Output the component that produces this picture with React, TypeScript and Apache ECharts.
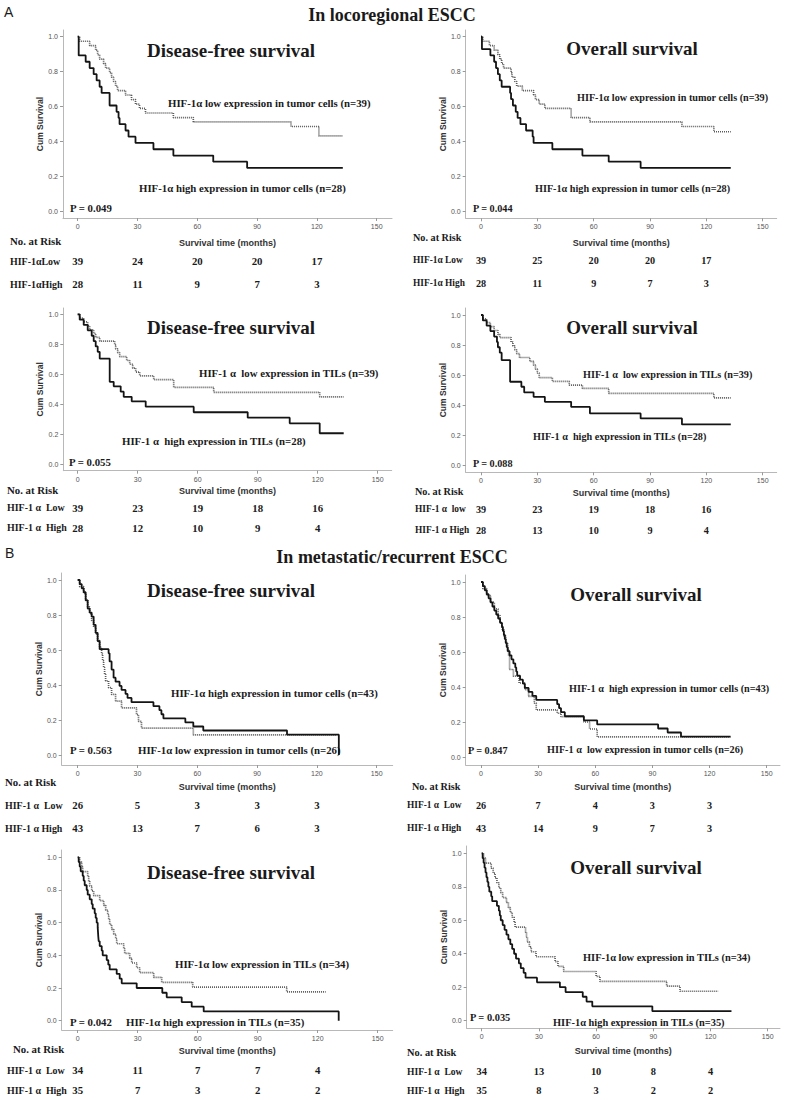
import React, { useEffect, useRef } from "react";
import * as echarts from "echarts";

type Pt = [number, number];

const xTickValues = [0, 30, 60, 90, 120, 150];
const yTickValues = [0, 0.2, 0.4, 0.6, 0.8, 1.0];
const riskTimes = [0, 30, 60, 90, 120];

// ---- Panel 1: locoregional, tumor cells, DFS
const p1Low: Pt[] = [[0,1],[1,0.974],[6,0.949],[9,0.923],[10,0.897],[11,0.872],[13,0.846],[14,0.821],[16,0.795],[17,0.769],[18,0.744],[19,0.718],[20,0.692],[24,0.667],[27,0.641],[29,0.615],[31,0.59],[34,0.564],[48,0.538],[58,0.513],[107,0.487],[121,0.433],[133,0.433]];
const p1High: Pt[] = [[0,1],[0.5,0.893],[4,0.857],[6,0.821],[8,0.786],[9.5,0.75],[11,0.714],[12,0.679],[16,0.607],[19.5,0.571],[20.5,0.536],[21,0.5],[24,0.464],[25.5,0.429],[29,0.393],[38,0.357],[48,0.321],[68,0.286],[85,0.25],[133,0.25]];
const p1RiskLow = [39, 24, 20, 20, 17];
const p1RiskHigh = [28, 11, 9, 7, 3];

// ---- Panel 2: locoregional, tumor cells, OS
const p2Low: Pt[] = [[0,1],[1,0.974],[4.5,0.949],[7,0.923],[9,0.897],[10,0.872],[11,0.846],[12,0.821],[16,0.795],[16.5,0.769],[18,0.744],[19,0.718],[22,0.692],[28,0.667],[29,0.641],[31,0.615],[34,0.59],[48,0.538],[58,0.513],[107,0.487],[124,0.457],[133,0.457]];
const p2High: Pt[] = [[0,1],[0.5,0.929],[5,0.893],[7,0.857],[8,0.821],[9,0.786],[10,0.75],[11,0.714],[15.5,0.679],[16,0.643],[17,0.607],[18.5,0.571],[19.5,0.536],[21,0.5],[24,0.464],[27.5,0.429],[28,0.393],[38,0.357],[54,0.321],[68,0.286],[85,0.25],[133,0.25]];
const p2RiskLow = [39, 25, 20, 20, 17];
const p2RiskHigh = [28, 11, 9, 7, 3];

// ---- Panel 3: locoregional, TILs, DFS
const p3Low: Pt[] = [[0,1],[1,0.974],[3,0.949],[5,0.923],[6,0.897],[8,0.872],[9,0.846],[11,0.821],[18.5,0.795],[19,0.769],[20,0.744],[21,0.718],[24.5,0.692],[26,0.667],[27.5,0.641],[29,0.615],[31,0.59],[38,0.564],[48,0.513],[68,0.48],[121,0.45],[133,0.45]];
const p3High: Pt[] = [[0,1],[1,0.964],[3,0.929],[5,0.893],[7,0.857],[8,0.821],[9,0.786],[10,0.75],[11,0.705],[16,0.55],[18,0.52],[21.5,0.484],[23,0.45],[27,0.42],[34,0.384],[58,0.347],[85,0.311],[106,0.273],[121,0.207],[133,0.207]];
const p3RiskLow = [39, 23, 19, 18, 16];
const p3RiskHigh = [28, 12, 10, 9, 4];

// ---- Panel 4: locoregional, TILs, OS
const p4Low: Pt[] = [[0,1],[1,0.974],[3,0.949],[5,0.923],[7,0.897],[9,0.872],[10,0.85],[16,0.821],[17,0.795],[18,0.769],[19,0.744],[20.5,0.718],[26,0.692],[28,0.667],[29,0.641],[30,0.615],[31,0.585],[38,0.56],[47,0.535],[54,0.513],[68,0.48],[124,0.45],[133,0.45]];
const p4High: Pt[] = [[0,1],[1,0.964],[3,0.929],[5,0.893],[7,0.857],[8.5,0.821],[9,0.786],[10,0.75],[11,0.7],[15.5,0.557],[21.5,0.524],[23,0.486],[28,0.457],[34,0.424],[48,0.39],[58,0.347],[85,0.314],[107,0.274],[133,0.274]];
const p4RiskLow = [39, 23, 19, 18, 16];
const p4RiskHigh = [28, 13, 10, 9, 4];

// ---- Panel 5: metastatic, tumor cells, DFS
const p5Low: Pt[] = [[0,1],[1,0.962],[3,0.923],[4,0.885],[5,0.846],[6,0.808],[7,0.769],[8,0.731],[9,0.692],[10,0.654],[11,0.615],[12,0.577],[12.5,0.538],[13,0.5],[13.5,0.462],[14,0.423],[15.5,0.385],[17,0.346],[19,0.308],[22,0.269],[29.5,0.231],[30.5,0.192],[32,0.154],[58,0.115],[130,0.115]];
const p5High: Pt[] = [[0,1],[1,0.977],[2,0.953],[3,0.93],[4,0.884],[5,0.837],[6,0.814],[7,0.791],[8,0.744],[9,0.698],[10,0.651],[11,0.605],[15.5,0.581],[16,0.535],[17,0.488],[18,0.442],[19,0.419],[21,0.395],[22,0.372],[24,0.349],[25,0.326],[27,0.302],[38,0.279],[41,0.256],[42,0.233],[43,0.209],[54,0.186],[58,0.163],[63,0.14],[105,0.116],[131,0]];
const p5RiskLow = [26, 5, 3, 3, 3];
const p5RiskHigh = [43, 13, 7, 6, 3];

// ---- Panel 6: metastatic, tumor cells, OS
const p6Low: Pt[] = [[0,1],[1,0.962],[3,0.923],[5,0.885],[7,0.846],[9,0.808],[10,0.769],[11,0.731],[12,0.692],[13,0.654],[14,0.615],[14.5,0.577],[15,0.5],[17,0.462],[20,0.423],[23,0.385],[25,0.346],[28,0.308],[29,0.269],[40,0.25],[42,0.231],[54,0.2],[57,0.16],[61,0.115],[131,0.115]];
const p6High: Pt[] = [[0,1],[1,0.977],[2,0.953],[3,0.93],[4,0.907],[5,0.884],[6,0.86],[7,0.837],[8,0.814],[9,0.791],[10,0.767],[11,0.744],[11.5,0.72],[12,0.698],[12.5,0.674],[13,0.651],[13.5,0.628],[14,0.605],[15,0.581],[16,0.558],[17,0.535],[18,0.512],[18.5,0.488],[19,0.465],[20.5,0.442],[22,0.419],[23,0.395],[25,0.372],[27,0.349],[29,0.326],[40,0.302],[41,0.279],[42,0.256],[44,0.233],[54,0.209],[61,0.186],[93,0.163],[98,0.14],[105,0.116],[131,0.116]];
const p6RiskLow = [26, 7, 4, 3, 3];
const p6RiskHigh = [43, 14, 9, 7, 3];

// ---- Panel 7: metastatic, TILs, DFS
const p7Low: Pt[] = [[0,1],[1,0.971],[2,0.941],[2.5,0.912],[5,0.882],[5.5,0.853],[6,0.824],[7,0.794],[8,0.765],[11,0.735],[13,0.706],[14,0.676],[15,0.647],[15.5,0.618],[16,0.588],[17,0.559],[18,0.529],[19,0.5],[19.5,0.471],[23,0.441],[23.5,0.412],[26,0.382],[27,0.353],[29.5,0.324],[31,0.294],[38,0.265],[42,0.235],[57.5,0.206],[104.5,0.176],[124,0.176]];
const p7High: Pt[] = [[0,1],[0.5,0.971],[1,0.943],[1.5,0.914],[2.5,0.886],[3,0.857],[3.5,0.829],[4.5,0.8],[5,0.771],[6,0.743],[7,0.714],[7.5,0.686],[8.5,0.657],[9,0.629],[9.5,0.6],[10,0.571],[10.3,0.514],[10.5,0.486],[11,0.457],[12,0.429],[12.5,0.4],[14.5,0.371],[15.3,0.343],[16,0.314],[19.5,0.286],[21,0.257],[22,0.229],[29.5,0.2],[42.3,0.171],[44.5,0.143],[52,0.114],[57,0.086],[63,0.057],[130.5,0]];
const p7RiskLow = [34, 11, 7, 7, 4];
const p7RiskHigh = [35, 7, 3, 2, 2];

// ---- Panel 8: metastatic, TILs, OS
const p8Low: Pt[] = [[0,1],[1,0.971],[2,0.941],[5,0.912],[6,0.882],[7,0.853],[8,0.824],[9,0.794],[10,0.765],[11,0.735],[13,0.706],[14,0.676],[15,0.647],[16,0.618],[17,0.588],[17.5,0.559],[23,0.529],[23.5,0.5],[24,0.471],[25,0.441],[26,0.412],[28.5,0.382],[38.5,0.353],[40,0.324],[43,0.294],[60,0.265],[62,0.235],[97,0.206],[104,0.176],[124,0.176]];
const p8High: Pt[] = [[0,1],[0.5,0.971],[1,0.943],[1.5,0.914],[2,0.886],[2.5,0.857],[3,0.829],[3.5,0.8],[4,0.771],[5,0.743],[5.5,0.714],[8,0.686],[9,0.657],[9.5,0.629],[10,0.6],[11,0.571],[12,0.543],[13,0.514],[14,0.486],[15,0.457],[16,0.429],[17,0.4],[18,0.371],[19.5,0.343],[20.5,0.314],[22,0.286],[23,0.257],[29,0.229],[41,0.2],[44,0.171],[53,0.143],[55,0.114],[58,0.086],[89.5,0.057],[131,0.057]];
const p8RiskLow = [34, 13, 10, 8, 4];
const p8RiskHigh = [35, 8, 3, 2, 2];

const SERIF = "'Liberation Serif', 'Times New Roman', serif";
const SANS = "'Liberation Sans', Arial, sans-serif";

// layout (pixel geometry of each panel)
const layouts = [
  { xL: 63, xR: 392, x0: 77.7, x150: 376.7, yT: 30, y1: 36.7, y0: 211.7, xAxisY: 218, xNameGap: 20, r1: 261, r2: 284, title: [231, 50], lowT: [168, 103], highT: [139, 188], pT: [70, 208], nar: [10, 241], rowX: 10, fs: 10.8 },
  { xL: 465.7, xR: 776.7, x0: 481, x150: 762.7, yT: 30, y1: 36.7, y0: 211.7, xAxisY: 218.3, xNameGap: 20, r1: 260, r2: 283.3, title: [632, 48], lowT: [577, 97], highT: [535, 188], pT: [473, 208], nar: [413, 237], rowX: 413, fs: 10.2 },
  { xL: 63.3, xR: 391.7, x0: 77.7, x150: 377.7, yT: 308, y1: 314.3, y0: 464.3, xAxisY: 470.7, xNameGap: 16, r1: 507.7, r2: 527.7, title: [231, 327], lowT: [199, 373], highT: [122, 441], pT: [69, 462], nar: [7, 490], rowX: 7, fs: 10.8 },
  { xL: 465.7, xR: 776.7, x0: 481, x150: 762.7, yT: 308, y1: 315, y0: 465.7, xAxisY: 472.3, xNameGap: 16, r1: 509, r2: 530, title: [632, 327], lowT: [583, 374], highT: [533, 436], pT: [473, 463], nar: [415, 491], rowX: 415, fs: 10.2 },
  { xL: 61.7, xR: 392.7, x0: 77.7, x150: 376.7, yT: 573, y1: 580, y0: 755, xAxisY: 765, xNameGap: 17, r1: 805, r2: 828, title: [231, 590], lowT: [138, 750], highT: [171, 693], pT: [70, 750], nar: [5, 782], rowX: 5, fs: 10.8 },
  { xL: 465.7, xR: 780, x0: 481, x150: 766.7, yT: 575, y1: 582, y0: 757, xAxisY: 765, xNameGap: 17, r1: 805, r2: 828.3, title: [636, 594], lowT: [547, 749], highT: [569, 688], pT: [468, 750], nar: [412, 786], rowX: 407, fs: 10.2 },
  { xL: 61.7, xR: 392.7, x0: 77.7, x150: 377.7, yT: 850, y1: 857.3, y0: 1020.7, xAxisY: 1030, xNameGap: 16.5, r1: 1070, r2: 1090, title: [231, 872], lowT: [175, 964], highT: [126, 1022], pT: [70, 1022], nar: [13, 1049], rowX: 7, fs: 10.8 },
  { xL: 466.7, xR: 780, x0: 481.7, x150: 767.7, yT: 846, y1: 853.3, y0: 1020.7, xAxisY: 1028.3, xNameGap: 18, r1: 1071.7, r2: 1090.7, title: [636, 867], lowT: [583, 957], highT: [553, 1022], pT: [470, 1017], nar: [407, 1052], rowX: 407, fs: 10.4 },
];

const DFS = "Disease-free survival";
const OS = "Overall survival";

const panels = [
  { low: p1Low, high: p1High, riskLow: p1RiskLow, riskHigh: p1RiskHigh, title: DFS, p: "P = 0.049", lowLabel: "HIF-1α low expression in tumor cells (n=39)", highLabel: "HIF-1α high expression in tumor cells (n=28)", rowLow: "HIF-1αLow", rowHigh: "HIF-1αHigh" },
  { low: p2Low, high: p2High, riskLow: p2RiskLow, riskHigh: p2RiskHigh, title: OS, p: "P = 0.044", lowLabel: "HIF-1α low expression in tumor cells (n=39)", highLabel: "HIF-1α high expression in tumor cells (n=28)", rowLow: "HIF-1α Low", rowHigh: "HIF-1α High" },
  { low: p3Low, high: p3High, riskLow: p3RiskLow, riskHigh: p3RiskHigh, title: DFS, p: "P = 0.055", lowLabel: "HIF-1 α  low expression in TILs (n=39)", highLabel: "HIF-1 α  high expression in TILs (n=28)", rowLow: "HIF-1 α  Low", rowHigh: "HIF-1 α  High" },
  { low: p4Low, high: p4High, riskLow: p4RiskLow, riskHigh: p4RiskHigh, title: OS, p: "P = 0.088", lowLabel: "HIF-1 α  low expression in TILs (n=39)", highLabel: "HIF-1 α  high expression in TILs (n=28)", rowLow: "HIF-1 α  low", rowHigh: "HIF-1 α High" },
  { low: p5Low, high: p5High, riskLow: p5RiskLow, riskHigh: p5RiskHigh, title: DFS, p: "P = 0.563", lowLabel: "HIF-1α low expression in tumor cells (n=26)", highLabel: "HIF-1α high expression in tumor cells (n=43)", rowLow: "HIF-1 α  Low", rowHigh: "HIF-1 α High" },
  { low: p6Low, high: p6High, riskLow: p6RiskLow, riskHigh: p6RiskHigh, title: OS, p: "P = 0.847", lowLabel: "HIF-1 α  low expression in tumor cells (n=26)", highLabel: "HIF-1 α  high expression in tumor cells (n=43)", rowLow: "HIF-1 α  Low", rowHigh: "HIF-1 α High" },
  { low: p7Low, high: p7High, riskLow: p7RiskLow, riskHigh: p7RiskHigh, title: DFS, p: "P = 0.042", lowLabel: "HIF-1α low expression in TILs (n=34)", highLabel: "HIF-1α high expression in TILs (n=35)", rowLow: "HIF-1 α  Low", rowHigh: "HIF-1 α  High" },
  { low: p8Low, high: p8High, riskLow: p8RiskLow, riskHigh: p8RiskHigh, title: OS, p: "P = 0.035", lowLabel: "HIF-1α low expression in TILs (n=34)", highLabel: "HIF-1α high expression in TILs (n=35)", rowLow: "HIF-1 α  Low", rowHigh: "HIF-1 α  High" },
];

function txt(x: number, y: number, text: string, o: any = {}) {
  const align = o.align || "left";
  return {
    type: "text",
    x,
    y,
    silent: true,
    style: {
      text,
      fill: o.color || "#1a1a1a",
      fontSize: o.size || 10.8,
      fontFamily: o.family || SERIF,
      fontWeight: o.weight || "bold",
      textAlign: align,
      align,
      textVerticalAlign: "middle",
      verticalAlign: "middle",
    },
  };
}

function buildOption() {
  const grid: any[] = [];
  const xAxis: any[] = [];
  const yAxis: any[] = [];
  const series: any[] = [];
  const graphic: any[] = [];

  graphic.push(txt(4, 12, "A", { family: SANS, weight: "normal", size: 14 }));
  graphic.push(txt(392, 15, "In locoregional ESCC", { align: "center", size: 18 }));
  graphic.push(txt(5, 553, "B", { family: SANS, weight: "normal", size: 14 }));
  graphic.push(txt(392, 557, "In metastatic/recurrent ESCC", { align: "center", size: 18 }));

  panels.forEach((p, i) => {
    const g = layouts[i];
    const pxPerMo = (g.x150 - g.x0) / 150;
    const xmin = -(g.x0 - g.xL) / pxPerMo;
    const xmax = 150 + (g.xR - g.x150) / pxPerMo;
    const pxPerU = g.y0 - g.y1;
    const ymax = 1 + (g.y1 - g.yT) / pxPerU;
    const ymin = -(g.xAxisY - g.y0) / pxPerU;

    const gi = grid.length;
    grid.push({ left: g.xL, top: g.yT, width: g.xR - g.xL, height: g.xAxisY - g.yT, outerBoundsMode: "none", containLabel: false });
    xAxis.push({
      gridIndex: gi,
      type: "value",
      min: xmin,
      max: xmax,
      splitLine: { show: false },
      axisLine: { show: true, onZero: false, lineStyle: { color: "#b8b8b8", width: 1 } },
      axisTick: { show: true, customValues: xTickValues, length: 3, lineStyle: { color: "#999" } },
      axisLabel: { customValues: xTickValues, fontSize: 7, color: "#555", fontFamily: SANS, margin: 5 },
      name: "Survival time (months)",
      nameLocation: "middle",
      nameGap: g.xNameGap,
      nameTextStyle: { fontSize: 9, fontFamily: SANS, fontWeight: "bold", color: "#333" },
    });
    yAxis.push({
      gridIndex: gi,
      type: "value",
      min: ymin,
      max: ymax,
      splitLine: { show: false },
      axisLine: { show: true, onZero: false, lineStyle: { color: "#b8b8b8", width: 1 } },
      axisTick: { show: true, customValues: yTickValues, length: 3, lineStyle: { color: "#999" } },
      axisLabel: { customValues: yTickValues, fontSize: 7, color: "#555", fontFamily: SANS, margin: 5, formatter: (v: number) => v.toFixed(1) },
      name: "Cum Survival",
      nameLocation: "middle",
      nameGap: 17,
      nameRotate: 90,
      nameTextStyle: { fontSize: 8.5, fontFamily: SANS, fontWeight: "bold", color: "#333" },
    });
    series.push({
      type: "line",
      xAxisIndex: gi,
      yAxisIndex: gi,
      step: "end",
      showSymbol: false,
      symbol: "none",
      data: p.low,
      lineStyle: { color: "#5a5a5a", width: 1.7, type: [1, 1] },
      z: 2,
      silent: true,
    });
    series.push({
      type: "line",
      xAxisIndex: gi,
      yAxisIndex: gi,
      step: "end",
      showSymbol: false,
      symbol: "none",
      data: p.high,
      lineStyle: { color: "#141414", width: 1.8 },
      z: 3,
      silent: true,
    });

    // risk table grid sharing the survival time scale
    const ri = grid.length;
    grid.push({ left: g.xL, top: g.r1, width: g.xR - g.xL, height: g.r2 - g.r1, outerBoundsMode: "none", containLabel: false });
    xAxis.push({ gridIndex: ri, type: "value", min: xmin, max: xmax, show: false });
    yAxis.push({ gridIndex: ri, type: "value", min: 0, max: 1, show: false });
    const rows: any[] = [];
    p.riskLow.forEach((v, k) => rows.push([riskTimes[k], 1, v]));
    p.riskHigh.forEach((v, k) => rows.push([riskTimes[k], 0, v]));
    const fs = g.fs;
    series.push({
      type: "custom",
      xAxisIndex: ri,
      yAxisIndex: ri,
      clip: false,
      silent: true,
      data: rows,
      encode: { x: 0, y: 1 },
      renderItem: (_params: any, api: any) => {
        const pt = api.coord([api.value(0), api.value(1)]);
        return {
          type: "text",
          x: pt[0],
          y: pt[1],
          style: {
            text: String(api.value(2)),
            fill: "#1a1a1a",
            fontSize: fs,
            fontFamily: SERIF,
            fontWeight: "bold",
            textAlign: "center",
            align: "center",
            textVerticalAlign: "middle",
            verticalAlign: "middle",
          },
        };
      },
    });

    // texts
    const rowFs = g.fs * 0.92;
    graphic.push(txt(g.title[0], g.title[1], p.title, { align: "center", size: 19 }));
    graphic.push(txt(g.lowT[0], g.lowT[1], p.lowLabel, { size: g.fs }));
    graphic.push(txt(g.highT[0], g.highT[1], p.highLabel, { size: g.fs }));
    graphic.push(txt(g.pT[0], g.pT[1], p.p, { size: g.fs }));
    graphic.push(txt(g.nar[0], g.nar[1], "No. at Risk", { size: g.fs }));
    graphic.push(txt(g.rowX, g.r1, p.rowLow, { size: rowFs }));
    graphic.push(txt(g.rowX, g.r2, p.rowHigh, { size: rowFs }));
  });

  return {
    animation: false,
    backgroundColor: "#ffffff",
    grid,
    xAxis,
    yAxis,
    series,
    graphic: { elements: graphic },
  };
}

export default function App() {
  const ref = useRef<HTMLDivElement>(null);
  useEffect(() => {
    document.body.style.margin = "0";
    const chart = echarts.init(ref.current as HTMLDivElement, null, { renderer: "svg" });
    chart.setOption(buildOption() as any);
    return () => chart.dispose();
  }, []);
  return <div ref={ref} style={{ width: 785, height: 1100, background: "#fff" }} />;
}
